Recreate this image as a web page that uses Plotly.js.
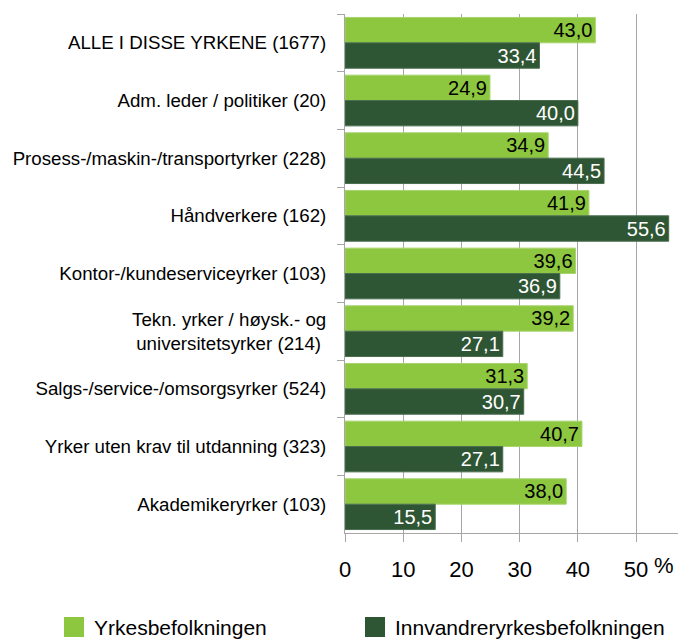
<!DOCTYPE html>
<html><head><meta charset="utf-8">
<script src="https://cdn.plot.ly/plotly-3.0.1.min.js"></script>
<style>html,body{margin:0;padding:0;background:#fff}</style>
</head><body><div id="chart" style="width:678px;height:640px"></div>
<script>
const categories = [
  "ALLE I DISSE YRKENE (1677)",
  "Adm. leder / politiker (20)",
  "Prosess-/maskin-/transportyrker (228)",
  "Håndverkere (162)",
  "Kontor-/kundeserviceyrker (103)",
  "Tekn. yrker / høysk.- og<br>universitetsyrker (214) ",
  "Salgs-/service-/omsorgsyrker (524)",
  "Yrker uten krav til utdanning (323)",
  "Akademikeryrker (103)"
];
const yrkesbefolkningen = [43.0, 24.9, 34.9, 41.9, 39.6, 39.2, 31.3, 40.7, 38.0];
const innvandrere = [33.4, 40.0, 44.5, 55.6, 36.9, 27.1, 30.7, 27.1, 15.5];
const seriesNames = ["Yrkesbefolkningen", "Innvandreryrkesbefolkningen"];
const tickVals = [0, 10, 20, 30, 40, 50];
const tickLabels = ["0", "10", "20", "30", "40", "50"];

const FONT = '"Liberation Sans", Arial, sans-serif';
const LIGHT = '#8dc63f', DARK = '#2f5634';

const traces = [
  {type:'bar', orientation:'h', name:seriesNames[0], y:categories, x:yrkesbefolkningen,
   marker:{color:LIGHT, line:{color:'#a8d46e', width:1}},
   texttemplate:'%{x:.1f}', textposition:'inside', insidetextanchor:'end',
   constraintext:'none', textfont:{family:FONT, size:20, color:'#000'}, hoverinfo:'none'},
  {type:'bar', orientation:'h', name:seriesNames[1], y:categories, x:innvandrere,
   marker:{color:DARK, line:{color:'#4a6e4e', width:1}},
   texttemplate:'%{x:.1f}', textposition:'inside', insidetextanchor:'end',
   constraintext:'none', textfont:{family:FONT, size:20, color:'#fff'}, hoverinfo:'none'}
];

const legY = (640-627-107)/519;
const layout = {
  width:678, height:640,
  margin:{l:345, r:0, t:14, b:107},
  paper_bgcolor:'#fff', plot_bgcolor:'#fff',
  separators:', ',
  barmode:'group', bargap:0.12, bargroupgap:0,
  showlegend:false,
  font:{family:FONT, color:'#000'},
  xaxis:{range:[0,57.2], tickvals:tickVals, ticktext:tickLabels,
    showgrid:true, gridcolor:'#a6a6a6', gridwidth:1, zeroline:false,
    showline:true, linecolor:'#a6a6a6', ticks:'outside', ticklen:8, tickcolor:'#a6a6a6',
    tickfont:{family:FONT, size:22, color:'#000'}, ticklabelstandoff:9, fixedrange:true},
  yaxis:{autorange:'reversed', type:'category', tickson:'boundaries',
    showline:true, linecolor:'#a6a6a6', ticks:'outside', ticklen:7, tickcolor:'#a6a6a6',
    showgrid:false, tickfont:{family:FONT, size:18.7, color:'#000'}, ticklabelstandoff:14, fixedrange:true},
  annotations:[
    {xref:'x', yref:'paper', x:50, y:0, xanchor:'left', yanchor:'top', xshift:16, yshift:-18,
     text:'%', showarrow:false, font:{family:FONT, size:22, color:'#000'}},
    {xref:'paper', yref:'paper', x:(92-345)/333, y:legY, xanchor:'left', yanchor:'middle',
     text:seriesNames[0], showarrow:false, font:{family:FONT, size:21, color:'#000'}},
    {xref:'paper', yref:'paper', x:(393-345)/333, y:legY, xanchor:'left', yanchor:'middle',
     text:seriesNames[1], showarrow:false, font:{family:FONT, size:21, color:'#000'}}
  ],
  shapes:[
    {type:'rect', xref:'paper', yref:'paper', x0:(64-345)/333, x1:(84-345)/333,
     y0:(640-637-107)/519, y1:(640-617-107)/519, fillcolor:LIGHT, line:{width:0}},
    {type:'rect', xref:'paper', yref:'paper', x0:(365-345)/333, x1:(385-345)/333,
     y0:(640-637-107)/519, y1:(640-617-107)/519, fillcolor:DARK, line:{width:0}}
  ]
};
Plotly.newPlot('chart', traces, layout, {displayModeBar:false, staticPlot:true});
</script></body></html>
